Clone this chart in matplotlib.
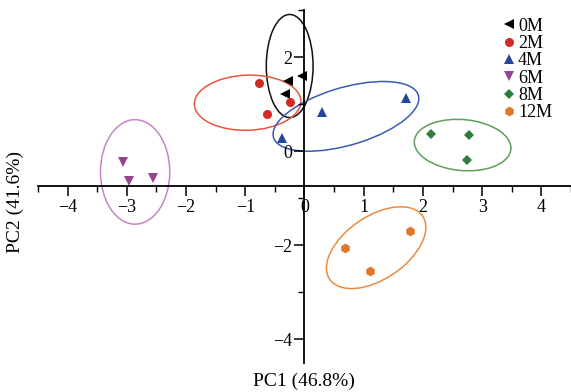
import matplotlib
matplotlib.use("Agg")
import matplotlib.pyplot as plt
from matplotlib.patches import Ellipse
from matplotlib.ticker import MultipleLocator

plt.rcParams['font.family'] = ['Liberation Serif', 'DejaVu Serif']

# PCA scores per storage time
groups = ['0M', '2M', '4M', '6M', '8M', '12M']
pc1 = {
    '0M': [-0.28, -0.04, -0.33],
    '2M': [-0.77, -0.25, -0.63],
    '4M': [-0.38, 0.30, 1.72],
    '6M': [-3.06, -2.96, -2.56],
    '8M': [2.14, 2.78, 2.75],
    '12M': [0.68, 1.11, 1.79],
}
pc2 = {
    '0M': [1.50, 1.59, 1.22],
    '2M': [1.44, 1.04, 0.78],
    '4M': [0.29, 0.83, 1.13],
    '6M': [-0.24, -0.64, -0.56],
    '8M': [0.37, 0.34, -0.18],
    '12M': [-2.05, -2.54, -1.69],
}
# confidence ellipses: centre x, centre y, width, height, angle
ell_cx = [-0.25, -0.96, 0.70, -2.86, 2.67, 1.21]
ell_cy = [1.81, 1.03, 0.74, -0.44, 0.13, -2.05]
ell_w = [0.79, 1.80, 2.61, 1.17, 1.64, 2.09]
ell_h = [2.19, 1.17, 1.20, 2.22, 1.08, 1.21]
ell_ang = [0, 3, 22, 0, -8, 47]

markers = ['<', 'o', '^', 'v', 'D', 'h']
msizes = [7, 6.5, 7, 7, 5.5, 7]
colors = ['#000000', '#d42a24', '#23479a', '#93468f', '#2f7d3a', '#e2772a']
ell_colors = ['#111111', '#e4583c', '#3a5cb0', '#c486c4', '#5f9e5c', '#ec8a3c']

fig = plt.figure(figsize=(5.71, 3.92), dpi=100)
ax = fig.add_axes([0.0665, 0.074, 0.9335, 0.9005])

for i, g in enumerate(groups):
    ax.add_patch(Ellipse((ell_cx[i], ell_cy[i]), ell_w[i], ell_h[i], angle=ell_ang[i],
                         fill=False, edgecolor=ell_colors[i], linewidth=1.1))
    ax.plot(pc1[g], pc2[g], linestyle='none', marker=markers[i], markersize=msizes[i],
            color=colors[i], markeredgewidth=0, label=g)

ax.set_xlim(-4.5, 4.5)
ax.set_ylim(-4.5, 3.0)
ax.spines['left'].set_position(('data', 0))
ax.spines['bottom'].set_position(('data', -0.75))
ax.spines['top'].set_visible(False)
ax.spines['right'].set_visible(False)
for s in ['left', 'bottom']:
    ax.spines[s].set_linewidth(1.3)

ax.xaxis.set_major_locator(MultipleLocator(1))
ax.xaxis.set_minor_locator(MultipleLocator(0.5))
ax.yaxis.set_major_locator(MultipleLocator(2))
ax.yaxis.set_minor_locator(MultipleLocator(1))
ax.tick_params(which='major', length=7, width=1.1, labelsize=13, pad=2)
ax.tick_params(which='minor', length=4, width=1.0)

fig.text(0.532, 0.027, 'PC1 (46.8%)', ha='center', va='center', fontsize=14)
fig.text(0.027, 0.485, 'PC2 (41.6%)', ha='center', va='center', fontsize=14, rotation=90)

ax.legend(loc='upper left', bbox_to_anchor=(0.882, 0.955), bbox_transform=fig.transFigure,
          frameon=False, fontsize=13, numpoints=1, handlelength=0.6, handletextpad=0.2,
          labelspacing=0.02, borderpad=0, borderaxespad=0)

fig.savefig('out.png', dpi=100)
